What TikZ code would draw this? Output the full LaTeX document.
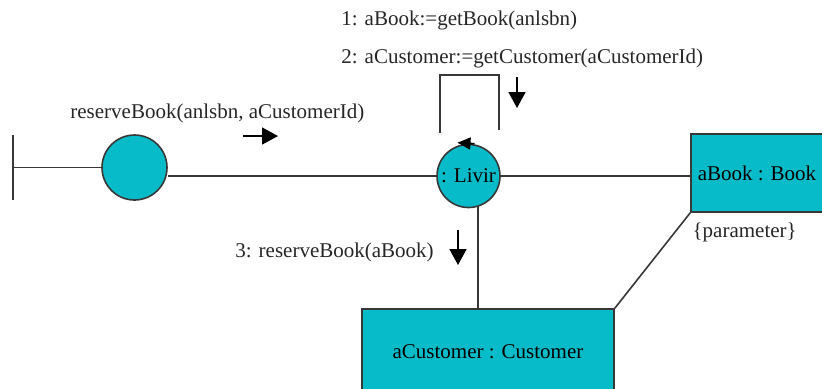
\documentclass[tikz,border=0pt]{standalone}
\usepackage{fontspec}
\setmainfont{Liberation Serif}
\usepackage{xcolor}
\usetikzlibrary{arrows.meta, positioning, backgrounds}
\definecolor{objcyan}{RGB}{8, 187, 200}
\definecolor{linegray}{RGB}{55, 55, 55}

\begin{document}
\begin{tikzpicture}[
    x=0.5pt, y=-0.5pt,
    font=\fontsize{10.5}{12}\selectfont,
    obj/.style={circle, draw=linegray, fill=objcyan, line width=0.8pt, inner sep=0pt},
    objbox/.style={rectangle, draw=linegray, fill=objcyan, line width=0.8pt, inner sep=2pt},
    link/.style={draw=linegray, line width=0.8pt},
    msg/.style={anchor=base west, inner sep=0pt, text=black!85},
    msgarr/.style={-{Triangle[length=8pt, width=8.5pt]}, line width=0.8pt, black},
    looptip/.style={-{Triangle[length=6.5pt, width=6pt]}, line width=0.8pt, black}
]
\useasboundingbox (0,0) rectangle (822,388);
\clip (0,0) rectangle (822,388);

% Objects
\node[obj, minimum size=32.5pt] (client) at (134.5,167.5) {};
\node[obj, minimum size=31.5pt] (livir) at (468.5,176) {: Livir};
\node[objbox, minimum width=66pt, minimum height=39pt] (book) at (757,173) {aBook : Book};
\node[objbox, minimum width=126pt, minimum height=43pt] (cust) at (488,352) {aCustomer : Customer};

% Actor end
\coordinate (barTop) at (13,135);
\coordinate (barBot) at (13,200);

% Links
\begin{scope}[on background layer]
\draw[link] (barTop) -- (barBot);
\draw[link] (client.west -| barTop) -- (client.west);
\draw[link] (livir.center) -- (livir.center -| client.east);
\draw[link] (livir.east) -- (livir.east -| book.west);
\draw[link] ([xshift=-5pt]cust.north) -- ([xshift=-5pt]cust.north |- livir.center);
\draw[link] (book.south west) -- (cust.north east);
\end{scope}

% Self link
\draw[link] ([shift={(30.5,-13.5)}]livir.north) -- ++(0,-55) -| ([shift={(-28.5,-10.5)}]livir.north);
\draw[looptip] ([xshift=3pt]livir.north) -- ([shift={(-11,-1)}]livir.north);

% Messages
\node[msg] (msgReserve) at (70,118) {reserveBook(anlsbn, aCustomerId)};
\node[msg] (msgGetBook) at (341,25) {1: aBook:=getBook(anlsbn)};
\node[msg] (msgGetCust) at (341,63) {2: aCustomer:=getCustomer(aCustomerId)};
\node[msg] (msgReserveBook) at (235,257) {3: reserveBook(aBook)};
\node[msg] (param) at ([shift={(2,25)}]book.south west) {\{parameter\}};

% Message arrows
\coordinate (rArrS) at (243,136);
\coordinate (rArrE) at (278,136);
\coordinate (lArrS) at (517,77);
\coordinate (lArrE) at (517,108);
\coordinate (cArrS) at (458,230);
\coordinate (cArrE) at (458,265);
\draw[msgarr] (rArrS) -- (rArrE);
\draw[msgarr] (lArrS) -- (lArrE);
\draw[msgarr] (cArrS) -- (cArrE);

\end{tikzpicture}
\end{document}
